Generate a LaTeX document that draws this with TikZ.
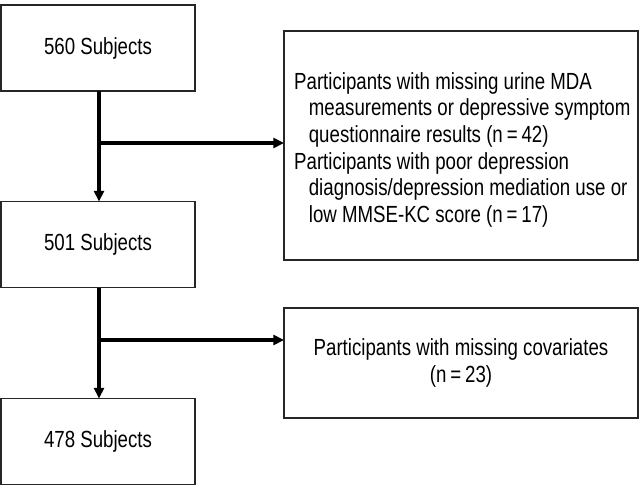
\documentclass[tikz,border=0pt]{standalone}
\usepackage{fontspec}
\setmainfont{Liberation Sans}[FakeStretch=0.8]
\usetikzlibrary{arrows.meta}
\begin{document}
\begin{tikzpicture}[x=0.75pt,y=-0.75pt,
  box/.style={draw=black!85,line width=0.9pt,inner sep=0pt,outer sep=0pt,
    font=\fontsize{17.5}{20}\selectfont},
  subj/.style={box,minimum width=145.5pt,minimum height=64.5pt},
  flow/.style={line width=2.3pt,-{Triangle[length=8pt,width=7.5pt]}}]
\useasboundingbox[fill=white] (0,0) rectangle (643,487);
\node[subj] (s1) at (98,48) {560 Subjects};
\node[subj] (s2) at (98,244.5) {501 Subjects};
\node[subj] (s3) at (98,441.5) {478 Subjects};
\node[box,minimum width=265.5pt,minimum height=171.75pt,align=left] (e1) at (461,145.5)
  {\rule{0pt}{0pt}\\[-1pt]\hspace*{2pt}Participants with missing urine MDA\\
   \hspace*{13pt}measurements or depressive symptom\\
   \hspace*{13pt}questionnaire results (n\,=\,42)\\
   \hspace*{2pt}Participants with poor depression\\
   \hspace*{13pt}diagnosis/depression mediation use or\\
   \hspace*{13pt}low MMSE-KC score (n\,=\,17)};
\node[box,minimum width=265.5pt,minimum height=82.5pt,align=center] (e2) at (461,363)
  {Participants with missing covariates\\(n\,=\,23)};
\coordinate (v1) at (99,91);
\coordinate (j1) at (99,143);
\coordinate (v2) at (99,287);
\coordinate (j2) at (99,340);
\draw[flow] (s1.south -| v1) -- (s2.north -| v1);
\draw[flow] (j1) -- (j1 -| e1.west);
\draw[flow] (s2.south -| v2) -- (s3.north -| v2);
\draw[flow] (j2) -- (j2 -| e2.west);
\end{tikzpicture}
\end{document}
